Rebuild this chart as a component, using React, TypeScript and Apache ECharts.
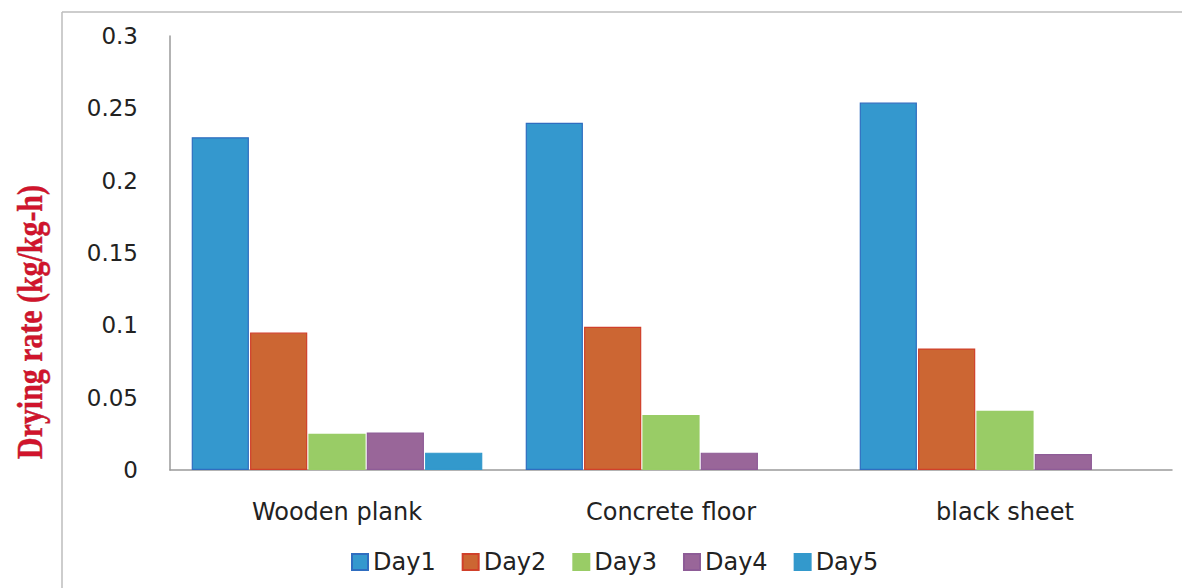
import React, { useEffect, useRef } from "react";
import * as echarts from "echarts";

const categories = ["Wooden plank", "Concrete floor", "black sheet"];
const seriesNames = ["Day1", "Day2", "Day3", "Day4", "Day5"];
const day1 = [0.23, 0.24, 0.254];
const day2 = [0.095, 0.099, 0.084];
const day3 = [0.025, 0.038, 0.041];
const day4 = [0.026, 0.012, 0.011];
const day5: (number | string)[] = [0.012, "-", "-"];
const yTicks = { min: 0, max: 0.3, interval: 0.05 };

const fills = ["#3498CE", "#CC6633", "#99CC66", "#996699", "#3399CC"];
const borders = ["#2F6DC0", "#D0402A", "#99CC66", "#8E5C97", "#3399CC"];

export default function App() {
  const ref = useRef<HTMLDivElement>(null);
  useEffect(() => {
    if (!ref.current) return;
    const chart = echarts.init(ref.current, null, { renderer: "svg" });
    const values = [day1, day2, day3, day4, day5];
    const font = "'DejaVu Sans', 'Open Sans', sans-serif";
    chart.setOption({
      animation: false,
      backgroundColor: "#ffffff",
      grid: { left: 170, right: 10, top: 36, bottom: 118 },
      xAxis: {
        type: "category",
        data: categories,
        axisLine: { lineStyle: { color: "#9a9a9a", width: 1.5 } },
        axisTick: { show: false },
        axisLabel: { fontSize: 24, color: "#222", fontFamily: font, margin: 30 },
      },
      yAxis: {
        type: "value",
        min: yTicks.min,
        max: yTicks.max,
        interval: yTicks.interval,
        splitLine: { show: false },
        axisLine: { show: true, lineStyle: { color: "#9a9a9a", width: 1.5 } },
        axisTick: { show: false },
        axisLabel: { fontSize: 23, color: "#222", fontFamily: font, margin: 32 },
      },
      legend: {
        data: seriesNames,
        left: 346,
        top: 545,
        itemWidth: 16,
        itemHeight: 16,
        itemGap: 26,
        icon: "rect",
        textStyle: { fontSize: 24, color: "#222", fontFamily: font },
      },
      series: seriesNames.map((name, i) => ({
        name,
        type: "bar",
        data: values[i],
        barCategoryGap: "13%",
        barGap: "2%",
        itemStyle: { color: fills[i], borderColor: borders[i], borderWidth: 1.2 },
      })),
      graphic: [
        {
          type: "line",
          shape: { x1: 62, y1: 12, x2: 62, y2: 588 },
          style: { stroke: "#bdbdbd", lineWidth: 1.5 },
        },
        {
          type: "line",
          shape: { x1: 62, y1: 12, x2: 1182, y2: 12 },
          style: { stroke: "#bdbdbd", lineWidth: 1.5 },
        },
        {
          type: "text",
          x: 30,
          y: 322,
          rotation: Math.PI / 2,
          scaleX: 0.83,
          style: {
            text: "Drying rate (kg/kg-h)",
            fill: "#D0142C",
            stroke: "#8a1020",
            lineWidth: 0.4,
            font: "bold 36px 'Liberation Serif', 'DejaVu Serif', serif",
            align: "center",
            verticalAlign: "middle",
          },
        },
      ],
    });
    return () => chart.dispose();
  }, []);
  return (
    <div
      ref={ref}
      style={{ position: "fixed", left: 0, top: 0, width: 1182, height: 588 }}
    />
  );
}
